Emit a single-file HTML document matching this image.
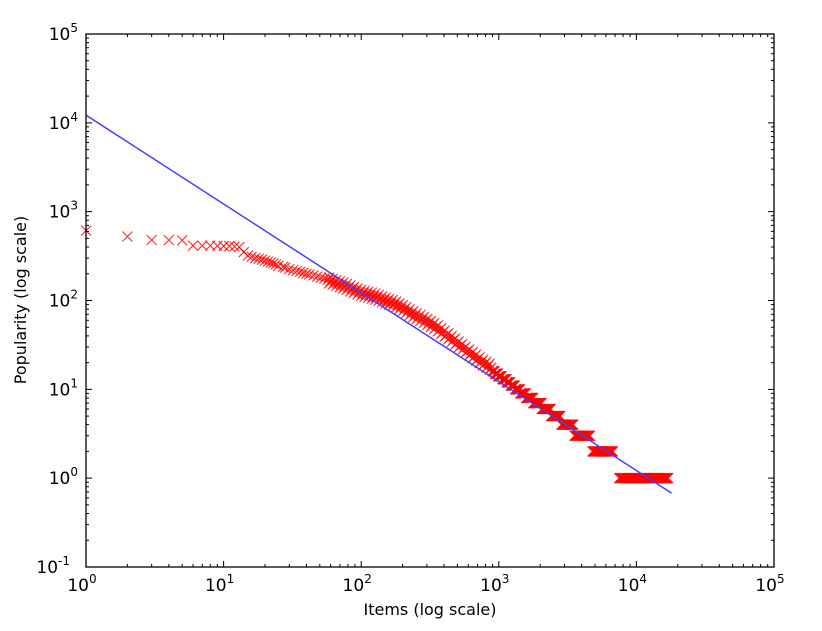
<!DOCTYPE html>
<html><head><meta charset="utf-8"><style>
html,body{margin:0;padding:0;background:#fff;}
svg{display:block;font-family:"DejaVu Sans","Liberation Sans",sans-serif;}
</style></head><body>
<svg id="chart" width="822" height="631" viewBox="0 0 822 631" xmlns="http://www.w3.org/2000/svg">
<rect width="822" height="631" fill="#fff"/>
<g id="marks"></g>
<g id="axes"></g>
<text x="430" y="615" font-size="16" text-anchor="middle">Items (log scale)</text>
<text transform="translate(26,300) rotate(-90)" font-size="16" text-anchor="middle">Popularity (log scale)</text>
</svg>
<script>
const xDecades = [0,1,2,3,4,5];
const yDecades = [-1,0,1,2,3,4,5];
const xTickExps = ["0","1","2","3","4","5"];
const yTickExps = ["-1","0","1","2","3","4","5"];
const ranks = [1,2,3,4,5,6,7,8,9,10,11,12,
13,14,15,16,17,18,19,20,21,22,23,24,25,
27,28,30,32,34,36,38,40,
42,45,48,51,54,57,60,
64,68,72,76,81,86,91,97,
103,109,116,123,130,138,146,155,
164,174,184,195,207,219,232,246,
261,277,294,312,330,350,371,393,
417,442,468,496,526,558,591,627,
664,704,746,791,838,880];
const values = [611,525,480,478,475,415,415,415,412,410,410,405,
400,350,320,310,300,295,288,280,274,268,262,255,245,
238,235,225,220,215,210,205,200,
197,192,186,180,176,171,165,
160,154,150,145,140,134,129,124,
120,117,115,112,109,105,101,98,
95,92,88,84,80,76,72,68,
65,62,59,56,53,50,47,44,
41,38,36,33,31,29,27,25,
23.5,22,20.5,19.5,18.5,17.5];
const runStarts = [900,940,990,1060,1140,1220,1310,1430,1580,1780,2050,2400,2850,3550,4800,7500];
const runEnds =   [940,990,1060,1140,1220,1310,1430,1580,1780,2050,2400,2800,3500,4600,6800,17200];
const runValues = [16,15,14,13,12,11,10,9,8,7,6,5,4,3,2,1];
const fitCoef = [12200];
const fitRange = [1,18000];

const L=86,R=774,T=34,B=567;
const NS="http://www.w3.org/2000/svg";
const xs=v=>L+(Math.log10(v)-0)/5*(R-L);
const ys=v=>B-(Math.log10(v)+1)/6*(B-T);
function mk(tag,attrs,parent){const e=document.createElementNS(NS,tag);for(const k in attrs)e.setAttribute(k,attrs[k]);parent.appendChild(e);return e;}
const marks=document.getElementById('marks'), axes=document.getElementById('axes');

function cross(x,y,name){
  const g=mk('path',{d:`M${x-5},${y-5}L${x+5},${y+5}M${x-5},${y+5}L${x+5},${y-5}`,stroke:'#ff0000','stroke-width':1.1,fill:'none','stroke-opacity':0.85},marks);
  
  
}
const n=Math.min(ranks.length,values.length);
for(let i=0;i<n;i++){
  cross(xs(ranks[i]),ys(values[i]),'data-point');
  if(i>0 && ranks[i]>=60){
    const xa=xs(ranks[i-1]),xb=xs(ranks[i]),ya=ys(values[i-1]),yb=ys(values[i]);
    const xm=(xa+xb)/2, ym=(ya+yb)/2;
    cross(xm,ym+3,'data-point-fill');
    cross(xm,ym-3,'data-point-fill');
  }
}
runValues.forEach((v,i)=>{
  const x0=xs(runStarts[i]),x1=xs(runEnds[i]),y=ys(v);
  for(let x=x0;x<=x1+0.01;x+=0.7) cross(x,y,'data-run-point');
});
const fit=mk('line',{x1:xs(fitRange[0]),y1:ys(fitCoef[0]/fitRange[0]),x2:xs(fitRange[1]),y2:ys(fitCoef[0]/fitRange[1]),stroke:'#4040ff','stroke-width':1.5},marks);



const frame=mk('rect',{x:L,y:T,width:R-L,height:B-T,fill:'none',stroke:'#000','stroke-width':1.3},axes);


let d='';
xDecades.forEach(e=>{
  const x=xs(Math.pow(10,e));
  d+=`M${x},${B}v-6M${x},${T}v6`;
  if(e<5) for(let m=2;m<10;m++){const xm=xs(m*Math.pow(10,e));d+=`M${xm},${B}v-3M${xm},${T}v3`;}
});
yDecades.forEach(e=>{
  const y=ys(Math.pow(10,e));
  d+=`M${L},${y}h6M${R},${y}h-6`;
  if(e<5) for(let m=2;m<10;m++){const ym=ys(m*Math.pow(10,e));d+=`M${L},${ym}h3M${R},${ym}h-3`;}
});
const tk=mk('path',{d:d,stroke:'#000','stroke-width':1,fill:'none'},axes);


xDecades.forEach((e,i)=>{
  const t=mk('text',{x:xs(Math.pow(10,e))-4,y:B+24,'font-size':17,'text-anchor':'middle'},axes);
  
  
  t.appendChild(document.createTextNode('10'));
  const s=mk('tspan',{dy:-8,'font-size':12},t);s.textContent=xTickExps[i];
});
yDecades.forEach((e,i)=>{
  const t=mk('text',{x:L-8-(yTickExps[i].length>1?8:0),y:ys(Math.pow(10,e))+6,'font-size':17,'text-anchor':'end'},axes);
  
  
  t.appendChild(document.createTextNode('10'));
  const s=mk('tspan',{dy:-8,'font-size':12},t);s.textContent=yTickExps[i];
});
</script>
</body></html>
